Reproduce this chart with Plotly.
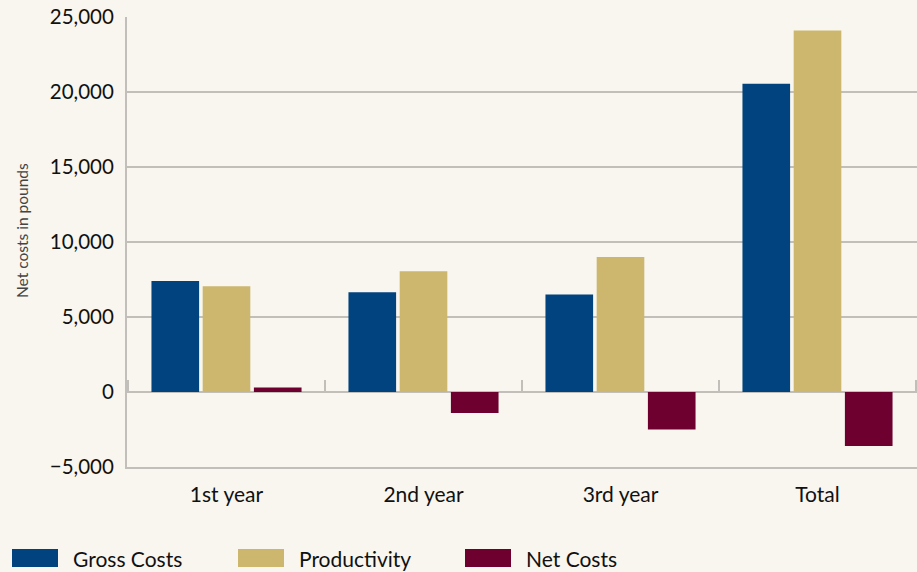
import plotly.graph_objects as go

categories = ["1st year", "2nd year", "3rd year", "Total"]
series_names = ["Gross Costs", "Productivity", "Net Costs"]
gross_costs = [7400, 6650, 6500, 20550]
productivity = [7050, 8050, 9000, 24100]
net_costs = [300, -1400, -2500, -3600]
y_tick_vals = [-5000, 0, 5000, 10000, 15000, 20000, 25000]
y_tick_text = ["\u22125,000", "0", "5,000", "10,000", "15,000", "20,000", "25,000"]

colors = ["#00437f", "#cdb76e", "#6e0030"]
BG = "#f8f6ef"
GRID = "#c2bfba"
FONT = "Lato, 'Open Sans', sans-serif"

W, H = 917, 572
ML, MR, MT, MB = 127, 0, 17, 105
PW, PH = W - ML - MR, H - MT - MB


def px(x):
    return (x - ML) / PW


def py(y):
    return (H - MB - y) / PH


fig = go.Figure()
for name, vals, col in zip(series_names, [gross_costs, productivity, net_costs], colors):
    fig.add_trace(go.Bar(x=categories, y=vals, name=name, marker_color=col,
                         marker_line_width=0, showlegend=False))

# category boundary ticks at the zero line
for i in range(len(categories) + 1):
    fig.add_shape(type="line", xref="x", yref="paper", x0=i - 0.5, x1=i - 0.5,
                  y0=py(392), y1=py(380), line=dict(color=GRID, width=2))

# custom legend
sw_x = [12, 238, 465]
txt_x = [71, 297, 524]
for name, col, sx, tx in zip(series_names, colors, sw_x, txt_x):
    fig.add_shape(type="rect", xref="paper", yref="paper", x0=px(sx), x1=px(sx + 46),
                  y0=py(567), y1=py(549), fillcolor=col, line_width=0)
    fig.add_annotation(xref="paper", yref="paper", x=px(tx), y=py(558), text=name,
                       showarrow=False, xanchor="left", yanchor="middle",
                       font=dict(family=FONT, size=21, color="#111111"))

# y-axis title
fig.add_annotation(xref="paper", yref="paper", x=px(22), y=py(231),
                   text="Net costs in pounds", textangle=-90, showarrow=False,
                   xanchor="center", yanchor="middle",
                   font=dict(family=FONT, size=15.5, color="#444444"))

fig.update_layout(
    width=W, height=H,
    margin=dict(l=ML, r=MR, t=MT, b=MB),
    paper_bgcolor=BG, plot_bgcolor=BG,
    barmode="group", bargap=0.22, bargroupgap=0.07,
    font=dict(family=FONT, color="#111111"),
    showlegend=False,
)
fig.update_xaxes(showgrid=False, showline=True, linecolor=GRID, linewidth=2,
                 ticks="", ticklabelstandoff=8,
                 tickfont=dict(size=21, color="#111111"), zeroline=False)
fig.update_yaxes(range=[-5000, 25000], tickvals=y_tick_vals, ticktext=y_tick_text,
                 showgrid=True, gridcolor=GRID, gridwidth=2,
                 zeroline=True, zerolinecolor=GRID, zerolinewidth=2,
                 showline=True, linecolor=GRID, linewidth=2,
                 ticks="", ticklabelstandoff=7,
                 tickfont=dict(size=20.5, color="#111111"))

fig.write_html("out.html", config={"displayModeBar": False},
               post_script="document.body.style.margin='0';"
                           "document.body.style.background='#f8f6ef';")
